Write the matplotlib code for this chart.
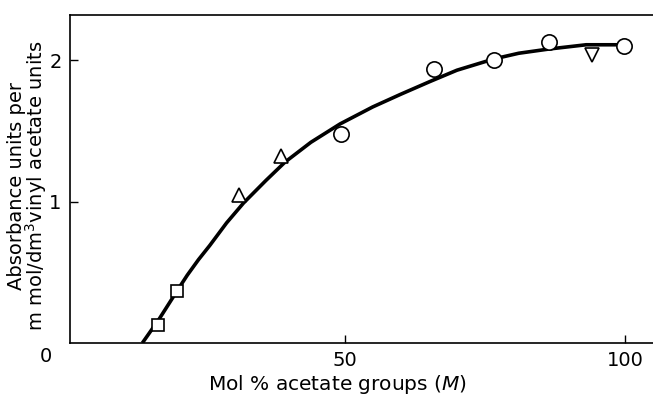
import matplotlib
matplotlib.use("Agg")
import matplotlib.pyplot as plt

# measured points, grouped by marker
sq_x = [16.8, 20.2]
sq_y = [0.13, 0.37]
tri_x = [31.2, 38.6]
tri_y = [1.05, 1.32]
circ_x = [49.4, 65.9, 76.6, 86.4, 99.7]
circ_y = [1.48, 1.94, 2.00, 2.13, 2.10]
tdown_x = [94.0]
tdown_y = [2.04]

# hand drawn trend curve
curve_x = [14.0, 17.0, 20.2, 22.0, 24.0, 26.0, 29.0, 32.0, 36.0, 39.4, 44.0,
           49.2, 55.0, 60.0, 65.2, 70.0, 76.6, 81.0, 86.4, 93.0, 99.5]
curve_y = [0.0, 0.17, 0.37, 0.48, 0.59, 0.69, 0.85, 0.99, 1.15, 1.28, 1.42,
           1.55, 1.67, 1.76, 1.85, 1.93, 2.01, 2.05, 2.08, 2.11, 2.11]

xticks = [50, 100]
yticks = [1, 2]

plt.rcParams['font.family'] = ['DejaVu Sans']

W, H = 653, 397
fig = plt.figure(figsize=(W / 100, H / 100), dpi=100)
ax = fig.add_axes([0.107, 0.136, 0.893, 0.826])

ax.plot(curve_x, curve_y, color='black', lw=2.6, solid_capstyle='butt', zorder=2)
mk = dict(mfc='white', mec='black', mew=1.2, ls='none', zorder=3)
ax.plot(sq_x, sq_y, marker='s', ms=9, **mk)
ax.plot(tri_x, tri_y, marker='^', ms=10, **mk)
ax.plot(circ_x, circ_y, marker='o', ms=11, **mk)
ax.plot(tdown_x, tdown_y, marker='v', ms=10, **mk)

ax.set_xlim(1.1, 104.9)
ax.set_ylim(0, 2.32)
ax.spines['right'].set_visible(False)
for s in ['left', 'top', 'bottom']:
    ax.spines[s].set_linewidth(1.2)

ax.set_xticks(xticks)
ax.set_xticklabels([str(t) for t in xticks])
ax.set_yticks(yticks)
ax.set_yticklabels([str(t) for t in yticks])
ax.tick_params(direction='in', length=6, width=1.0, labelsize=14, pad=6)
ax.tick_params(axis='y', pad=6)

ax.text(-3.2, -0.025, '0', fontsize=14, ha='center', va='top')

# axis titles placed by hand so they stay inside the small canvas
fig.text(338 / W, 1 - 385 / H, 'Mol % acetate groups ($\\it{M}$)',
         fontsize=14.5, ha='center', va='center')
fig.text(28 / W, 1 - 186 / H,
         'Absorbance units per\nm mol/dm$^3$vinyl acetate units',
         fontsize=14, rotation=90, ha='center', va='center',
         multialignment='center', linespacing=0.9)

fig.savefig('out.png', dpi=100)
